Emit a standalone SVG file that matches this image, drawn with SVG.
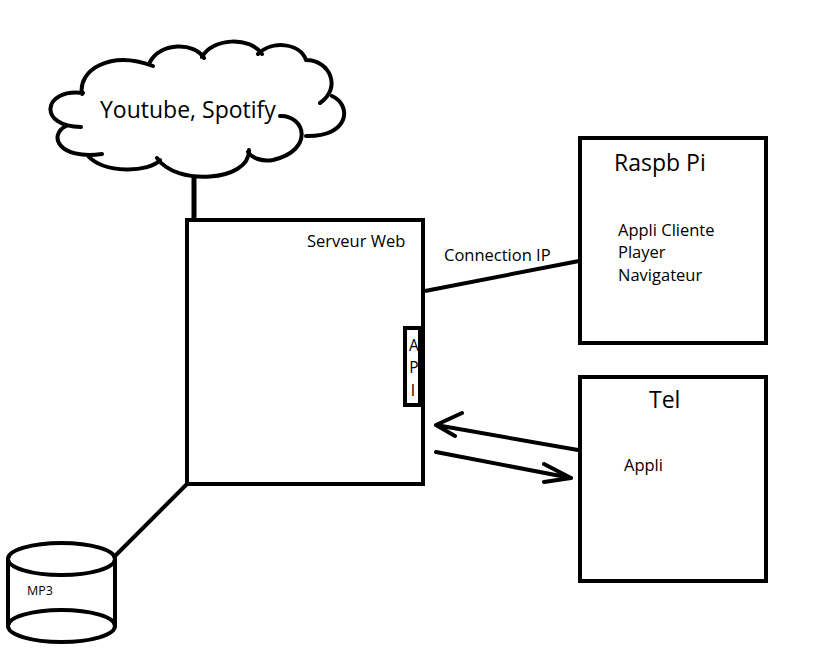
<svg xmlns="http://www.w3.org/2000/svg" width="826" height="655" viewBox="0 0 826 655">
<style>
.ln{fill:none;stroke:#000;stroke-width:4;stroke-linecap:round;stroke-linejoin:round}
.box{fill:#fff;stroke:#000;stroke-width:4}
text{font-family:"Open Sans","Noto Sans","DejaVu Sans",sans-serif;fill:#000}
.s{font-size:16.5px}
.l{font-size:23px}
.a{font-size:15.5px;text-anchor:middle}
</style>
<rect width="826" height="655" fill="#fff"/>
<g id="connectors">
<line x1="194" y1="178" x2="194" y2="220" stroke="#000" stroke-width="5"/>
<line x1="425" y1="291" x2="579" y2="261" stroke="#000" stroke-width="4"/>
<line x1="115" y1="556" x2="187" y2="484" stroke="#000" stroke-width="4"/>
<path class="ln" d="M578,450 L436,425 M462,413 L436,425 L455,436"/>
<path class="ln" d="M436,452 L571,478 M544,464 L571,478 L544,482"/>
</g>
<g id="cloud">
<path class="ln" d="M82,94 C78,70 110,50 153,66 M150,62 C160,42 195,42 204,58 M202,57 C212,38 250,36 262,54 M258,54 C272,40 300,43 306,60 C330,60 342,88 320,103 M332,96 C352,105 350,137 306,136 M280,116 C305,115 315,150 273,160 C262,162 252,158 248,152 M249,150 C250,182 175,186 157,158 M160,160 C150,172 105,175 87,155 M66,126 C48,135 58,160 102,154 M83,93 C42,88 38,127 81,127"/>
<text class="l" x="100" y="118">Youtube, Spotify</text>
</g>
<g id="server">
<rect class="box" x="187" y="220" width="236" height="264"/>
<text class="s" x="307" y="247">Serveur Web</text>
</g>
<g id="api">
<rect class="box" x="405" y="328" width="15" height="77"/>
<text class="a" x="414" y="351">A</text>
<text class="a" x="414" y="373">P</text>
<text class="a" x="413" y="396">I</text>
</g>
<text class="s" x="444" y="261">Connection IP</text>
<g id="raspb">
<rect class="box" x="580" y="138" width="186" height="205"/>
<text class="l" x="614" y="171">Raspb Pi</text>
<text class="s" x="618" y="236">Appli Cliente</text>
<text class="s" x="618" y="258">Player</text>
<text class="s" x="618" y="281">Navigateur</text>
</g>
<g id="tel">
<rect class="box" x="580" y="377" width="186" height="204"/>
<text class="l" x="649" y="408">Tel</text>
<text class="s" x="624" y="471">Appli</text>
</g>
<g id="mp3">
<path class="ln" d="M8,559 L8,626 M115,559 L115,626"/>
<ellipse cx="61.5" cy="559" rx="53.5" ry="16" fill="#fff" stroke="#000" stroke-width="4"/>
<ellipse cx="61.5" cy="626" rx="53.5" ry="16" fill="none" stroke="#000" stroke-width="4"/>
<text x="27" y="595" font-size="12.5">MP3</text>
</g>
</svg>
